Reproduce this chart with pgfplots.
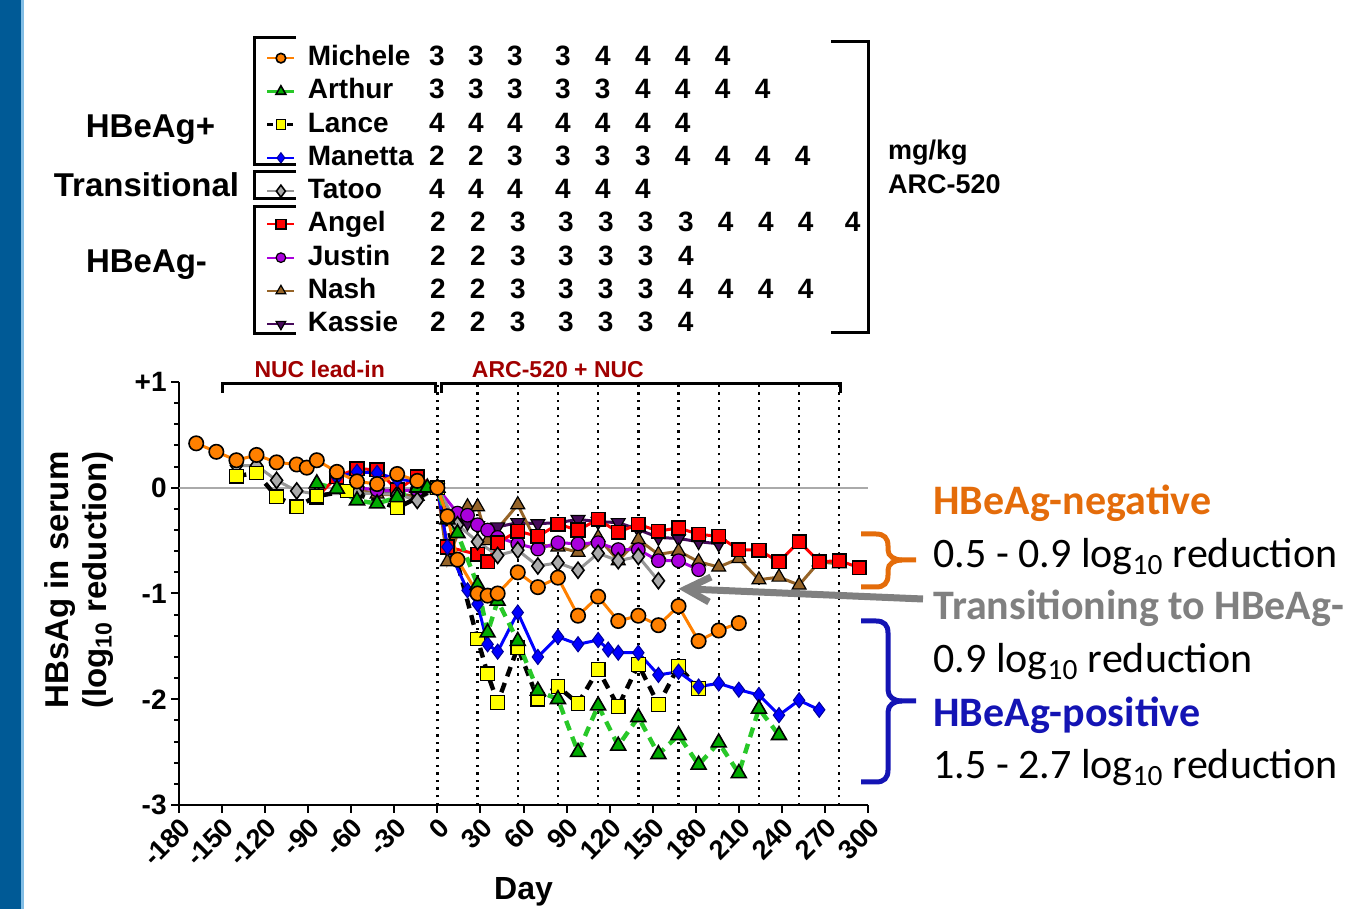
\documentclass[border=0pt]{standalone}
\usepackage{pgfplots}
\pgfplotsset{compat=1.18}
\usepackage{fontspec}
\setmainfont{Liberation Sans}
\newfontfamily\calibri{Carlito}
\definecolor{cMich}{RGB}{255,128,0}
\definecolor{cArth}{RGB}{0,170,0}
\definecolor{cArthL}{RGB}{40,200,40}
\definecolor{cLance}{RGB}{255,255,0}
\definecolor{cMan}{RGB}{0,0,255}
\definecolor{cTat}{RGB}{170,170,170}
\definecolor{cTatL}{RGB}{150,150,150}
\definecolor{cAng}{RGB}{255,0,0}
\definecolor{cJus}{RGB}{170,0,220}
\definecolor{cNash}{RGB}{150,100,40}
\definecolor{cKas}{RGB}{70,10,90}
\definecolor{dred}{RGB}{160,0,0}
\definecolor{annOr}{RGB}{228,108,10}
\definecolor{annBl}{RGB}{20,20,180}
\definecolor{annGr}{RGB}{128,128,128}
\definecolor{barBl}{RGB}{0,90,150}
\definecolor{barLt}{RGB}{130,190,230}
\newcommand\C[2]{\makebox[0pt][l]{\hspace*{#1pt}\makebox[0pt]{#2}}}
\newcommand\N[1]{\makebox[0pt][l]{#1}}
\newcommand\AF{\calibri\fontsize{21}{23}\selectfont}
\pgfplotsset{
 sMich/.style={color=cMich, line width=1.5pt, mark=*, mark size=3.6pt, mark options={solid,fill=cMich,draw=black,line width=0.8pt}},
 sArth/.style={color=cArthL, line width=2.2pt, dash pattern=on 5pt off 3.5pt, mark=triangle*, mark size=4.3pt, mark options={solid,fill=cArth,draw=black,line width=0.8pt}},
 sLance/.style={color=black, line width=2.2pt, dash pattern=on 5pt off 3.5pt, mark=square*, mark size=3.4pt, mark options={solid,fill=cLance,draw=black,line width=0.6pt}},
 sMan/.style={color=cMan, line width=1.5pt, mark=diamond*, mark size=3.8pt, mark options={solid,fill=cMan,draw=cMan!60!black,line width=0.5pt}},
 sTat/.style={color=cTatL, line width=1.5pt, mark=diamond*, mark size=4pt, mark options={solid,fill=cTat,draw=black,line width=0.8pt}},
 sAng/.style={color=cAng, line width=1.5pt, mark=square*, mark size=3.4pt, mark options={solid,fill=cAng,draw=black,line width=0.8pt}},
 sJus/.style={color=cJus, line width=1.5pt, mark=*, mark size=3.4pt, mark options={solid,fill=cJus,draw=black,line width=0.6pt}},
 sNash/.style={color=cNash, line width=1.5pt, mark=triangle*, mark size=4pt, mark options={solid,fill=cNash,draw=black,line width=0.6pt}},
 sKas/.style={color=cKas, line width=1.5pt, mark=triangle*, mark size=4pt, mark options={solid,rotate=180,fill=cKas,draw=black,line width=0.6pt}},
}
\begin{document}
\begin{tikzpicture}
\useasboundingbox (0,0) rectangle (676.5pt,454.5pt);
\begin{scope}[x=0.5pt,y=-0.5pt,shift={(0pt,454.5pt)}]
\fill[barBl] (0,0) rectangle (21,909);
\fill[barLt] (21,0) rectangle (24,909);
\end{scope}
\begin{axis}[
  at={(89.5pt,52pt)}, anchor=south west,
  scale only axis, width=344.5pt, height=211.5pt,
  xmin=-180, xmax=300, ymin=-3, ymax=1,
  clip=false,
  axis lines=left,
  axis line style={-, line width=1.2pt},
  every tick/.style={black, line width=1pt},
  tick align=outside,
  major tick length=4pt, minor tick length=2.5pt,
  xtick={-180,-150,...,300},
  xticklabels={-180,-150,-120,-90,-60,-30,0,30,60,90,120,150,180,210,240,270,300},
  ytick={-3,-2,-1,0,1},
  yticklabels={-3,-2,-1,0,+1},
  minor y tick num=4,
  xticklabel style={rotate=45, anchor=north east, inner sep=1pt, font=\bfseries\fontsize{13.5}{14}\selectfont},
  yticklabel style={font=\bfseries\fontsize{14}{14}\selectfont, inner sep=2pt},
  xlabel={Day},
  xlabel style={at={(axis description cs:0.5,-0.2225)}, anchor=base, font=\bfseries\fontsize{16}{16}\selectfont},
  ylabel={HBsAg in serum\\(log\textsubscript{10} reduction)},
  ylabel style={at={(axis description cs:-0.145,0.532)}, anchor=center, align=center, font=\bfseries\fontsize{16.5}{19}\selectfont},
  legend style={at={(0.1263,1.7975)}, anchor=north west, draw=none, fill=none, inner sep=0pt, outer sep=0pt, /tikz/row sep=3.125pt, /tikz/column sep=5.5pt, font=\bfseries\fontsize{14}{16}\selectfont, nodes={inner sep=0pt, text height=10.5pt, text depth=3pt}},
  legend cell align=left,
  legend image code/.code={\draw[mark repeat=2,mark phase=2] plot coordinates {(0pt,0pt) (6.75pt,0pt) (13.5pt,0pt)};},
]
\draw[cTat, line width=1pt] (axis cs:-180,0) -- (axis cs:300,0);
\pgfplotsinvokeforeach{0,28,56,84,112,140,168,196,224,252,280}{
  \draw[black, line width=1.2pt, dash pattern=on 1.2pt off 2.6pt] (axis cs:#1,-3) -- (axis cs:#1,0.985);
}
\draw[line width=1.5pt] (axis cs:-150,0.90) -- (axis cs:-150,0.985) -- (axis cs:-1.5,0.985) -- (axis cs:-1.5,0.90);
\draw[line width=1.5pt] (axis cs:3,0.90) -- (axis cs:3,0.985) -- (axis cs:281,0.985) -- (axis cs:281,0.90);
\node[text=dred, font=\bfseries\fontsize{11.5}{12}\selectfont] at (axis cs:-82,1.12) {NUC lead-in};
\node[text=dred, font=\bfseries\fontsize{11.5}{12}\selectfont] at (axis cs:84,1.12) {ARC-520 + NUC};

\addplot[sKas, forget plot] coordinates {(-56,-0.03) (-42,-0.05) (-28,-0.06) (-14,-0.08) (0,0) (7,-0.25) (21,-0.33) (28,-0.36) (35,-0.38) (42,-0.37) (56,-0.33) (70,-0.34) (84,-0.33) (98,-0.30) (112,-0.32) (126,-0.33) (140,-0.395) (154,-0.47) (168,-0.48) (182,-0.51) (196,-0.53)};
\addplot[sNash, forget plot] coordinates {(-56,-0.02) (-42,-0.06) (-28,-0.07) (-14,-0.08) (0,0) (7,-0.70) (21,-0.18) (28,-0.18) (35,-0.50) (56,-0.16) (70,-0.54) (84,-0.56) (98,-0.61) (112,-0.47) (126,-0.69) (140,-0.49) (154,-0.63) (168,-0.60) (182,-0.70) (196,-0.75) (210,-0.67) (224,-0.87) (238,-0.845) (252,-0.92) (266,-0.70) (280,-0.72)};
\addplot[sJus, forget plot] coordinates {(-56,0) (-42,-0.02) (-28,-0.03) (-14,-0.02) (0,0) (14,-0.24) (21,-0.26) (28,-0.35) (35,-0.40) (42,-0.47) (56,-0.53) (70,-0.58) (84,-0.52) (98,-0.53) (112,-0.52) (126,-0.585) (140,-0.585) (154,-0.69) (168,-0.69) (182,-0.775)};
\addplot[sAng, forget plot] coordinates {(-84,-0.09) (-70,0.105) (-56,0.18) (-42,0.17) (-28,-0.02) (-14,0.105) (0,0) (7,-0.56) (28,-0.63) (35,-0.70) (42,-0.52) (56,-0.41) (70,-0.46) (84,-0.345) (98,-0.40) (112,-0.30) (126,-0.42) (140,-0.345) (154,-0.41) (168,-0.38) (182,-0.44) (196,-0.46) (210,-0.585) (224,-0.59) (238,-0.70) (252,-0.51) (266,-0.70) (280,-0.69) (294,-0.756)};
\addplot[sTat, forget plot] coordinates {(-140,0.21) (-126,0.21) (-112,0.07) (-98,-0.03) (-84,-0.06) (-56,-0.05) (-28,-0.06) (-14,-0.12) (0,0) (14,-0.35) (28,-0.51) (42,-0.64) (56,-0.59) (70,-0.74) (84,-0.71) (98,-0.78) (112,-0.62) (126,-0.69) (140,-0.65) (154,-0.88)};
\addplot[sLance, forget plot] coordinates {(-140,0.11) (-126,0.14) (-112,-0.085) (-98,-0.18) (-84,-0.08) (-63,-0.03) (-28,-0.19) (0,0) (28,-1.43) (35,-1.76) (42,-2.03) (56,-1.51) (70,-2.0) (84,-1.88) (98,-2.04) (112,-1.72) (126,-2.07) (140,-1.67) (154,-2.05) (168,-1.69) (182,-1.9)};
\addplot[sMan, forget plot] coordinates {(-70,0.1) (-56,0.15) (-42,0.14) (-28,0.08) (-14,0.06) (0,0) (7,-0.56) (21,-0.97) (28,-1.10) (35,-1.48) (42,-1.55) (56,-1.18) (70,-1.60) (84,-1.41) (98,-1.48) (112,-1.44) (119,-1.53) (126,-1.56) (140,-1.56) (154,-1.77) (168,-1.74) (182,-1.88) (196,-1.85) (210,-1.91) (224,-1.96) (238,-2.15) (252,-2.01) (266,-2.10)};
\addplot[sArth, forget plot] coordinates {(-84,0.04) (-70,-0.01) (-56,-0.12) (-42,-0.15) (-28,-0.09) (-14,0) (-7,0) (0,0) (7,-0.3) (14,-0.43) (28,-0.92) (35,-1.37) (42,-1.07) (56,-1.45) (70,-1.92) (84,-2.0) (98,-2.5) (112,-2.06) (126,-2.44) (140,-2.17) (154,-2.52) (168,-2.34) (182,-2.62) (196,-2.41) (210,-2.70) (224,-2.09) (238,-2.34)};
\addplot[sMich, forget plot] coordinates {(-168,0.42) (-154,0.34) (-140,0.26) (-126,0.31) (-112,0.24) (-98,0.22) (-91,0.19) (-84,0.26) (-70,0.15) (-56,0.06) (-42,0.035) (-28,0.13) (-14,0.065) (0,0) (7,-0.27) (14,-0.68) (28,-1.0) (35,-1.02) (42,-1.0) (56,-0.80) (70,-0.94) (84,-0.85) (98,-1.21) (112,-1.03) (126,-1.26) (140,-1.21) (154,-1.30) (168,-1.12) (182,-1.45) (196,-1.35) (210,-1.28)};

\addlegendimage{sMich, mark size=2.4pt, line width=1pt}
\addlegendentry{\N{Michele}\C{64.5}{3}\C{84}{3}\C{103.5}{3}\C{127.5}{3}\C{147.5}{4}\C{167.5}{4}\C{187.5}{4}\C{207.5}{4}}
\addlegendimage{sArth, mark size=2.8pt, line width=1.4pt}
\addlegendentry{\N{Arthur}\C{64.5}{3}\C{84}{3}\C{103.5}{3}\C{127.5}{3}\C{147.5}{3}\C{167.5}{4}\C{187.5}{4}\C{207.5}{4}\C{227.5}{4}}
\addlegendimage{sLance, mark size=2.4pt, line width=1.4pt, dash pattern=on 3pt off 2pt}
\addlegendentry{\N{Lance}\C{64.5}{4}\C{84}{4}\C{103.5}{4}\C{127.5}{4}\C{147.5}{4}\C{167.5}{4}\C{187.5}{4}}
\addlegendimage{sMan, mark size=2.6pt, line width=1pt}
\addlegendentry{\N{Manetta}\C{64.5}{2}\C{84}{2}\C{103.5}{3}\C{127.5}{3}\C{147.5}{3}\C{167.5}{3}\C{187.5}{4}\C{207.5}{4}\C{227.5}{4}\C{247.5}{4}}
\addlegendimage{sTat, mark size=3pt, line width=1pt}
\addlegendentry{\N{Tatoo}\C{64.5}{4}\C{84}{4}\C{103.5}{4}\C{127.5}{4}\C{147.5}{4}\C{167.5}{4}}
\addlegendimage{sAng, mark size=2.4pt, line width=1pt}
\addlegendentry{\N{Angel}\C{65}{2}\C{85}{2}\C{105}{3}\C{129}{3}\C{149}{3}\C{169}{3}\C{189}{3}\C{209}{4}\C{229}{4}\C{249}{4}\C{272.5}{4}}
\addlegendimage{sJus, mark size=2.4pt, line width=1pt}
\addlegendentry{\N{Justin}\C{65}{2}\C{85}{2}\C{105}{3}\C{129}{3}\C{149}{3}\C{169}{3}\C{189}{4}}
\addlegendimage{sNash, mark size=2.8pt, line width=1pt}
\addlegendentry{\N{Nash}\C{65}{2}\C{85}{2}\C{105}{3}\C{129}{3}\C{149}{3}\C{169}{3}\C{189}{4}\C{209}{4}\C{229}{4}\C{249}{4}}
\addlegendimage{sKas, mark size=2.8pt, line width=1pt}
\addlegendentry{\N{Kassie}\C{65}{2}\C{85}{2}\C{105}{3}\C{129}{3}\C{149}{3}\C{169}{3}\C{189}{4}}
\end{axis}
\begin{scope}[x=0.5pt,y=-0.5pt,shift={(0pt,454.5pt)}]
\begin{scope}[font=\bfseries\fontsize{16.5}{18}\selectfont]
\node[anchor=base] at (150.5,138) {HBeAg+};
\node[anchor=base] at (146.5,197) {Transitional};
\node[anchor=base] at (146.5,273) {HBeAg-};
\end{scope}
\draw[line width=1.5pt] (296,38) -- (254,38) -- (254,165) -- (296,165);
\draw[line width=1.5pt] (296,172) -- (254,172) -- (254,199) -- (296,199);
\draw[line width=1.5pt] (296,207) -- (254,207) -- (254,334) -- (296,334);
\draw[line width=1.5pt] (831,42) -- (868,42) -- (868,333) -- (831,333);
\node[anchor=base west, font=\bfseries\fontsize{13.5}{14}\selectfont] at (881,160) {mg/kg};
\node[anchor=base west, font=\bfseries\fontsize{13.5}{14}\selectfont] at (881,194) {ARC-520};
\node[anchor=base west, inner sep=0pt, text=annOr, font=\AF\bfseries] at (933,515) {HBeAg-negative};
\node[anchor=base west, inner sep=0pt, font=\AF] at (933,568) {0.5 - 0.9 log\textsubscript{10} reduction};
\node[anchor=base west, inner sep=0pt, text=annGr, font=\AF\bfseries] at (933,620) {Transitioning to HBeAg-};
\node[anchor=base west, inner sep=0pt, font=\AF] at (933,673) {0.9 log\textsubscript{10} reduction};
\node[anchor=base west, inner sep=0pt, text=annBl, font=\AF\bfseries] at (933,727) {HBeAg-positive};
\node[anchor=base west, inner sep=0pt, font=\AF] at (933,779) {1.5 - 2.7 log\textsubscript{10} reduction};
\draw[annOr, line width=2.5pt] (861,534) -- (876,534) .. controls (884,534) and (888,538) .. (888,546) -- (888,550) .. controls (888,556) and (894,560) .. (902,560) -- (916,560);
\draw[annOr, line width=2.5pt] (861,587) -- (876,587) .. controls (884,587) and (888,583) .. (888,575) -- (888,570) .. controls (888,564) and (894,560) .. (902,560);
\draw[annBl, line width=2.5pt] (861,621) -- (876,621) .. controls (884,621) and (888,625) .. (888,633) -- (888,690) .. controls (888,697) and (894,701) .. (902,701) -- (916,701);
\draw[annBl, line width=2.5pt] (861,782) -- (876,782) .. controls (884,782) and (888,778) .. (888,770) -- (888,712) .. controls (888,705) and (894,701) .. (902,701);
\draw[annGr, line width=3.5pt] (923,599) -- (688,589);
\draw[annGr, line width=3.5pt, line join=miter] (711,577) -- (686,589) -- (709,602);
\end{scope}
\end{tikzpicture}
\end{document}
